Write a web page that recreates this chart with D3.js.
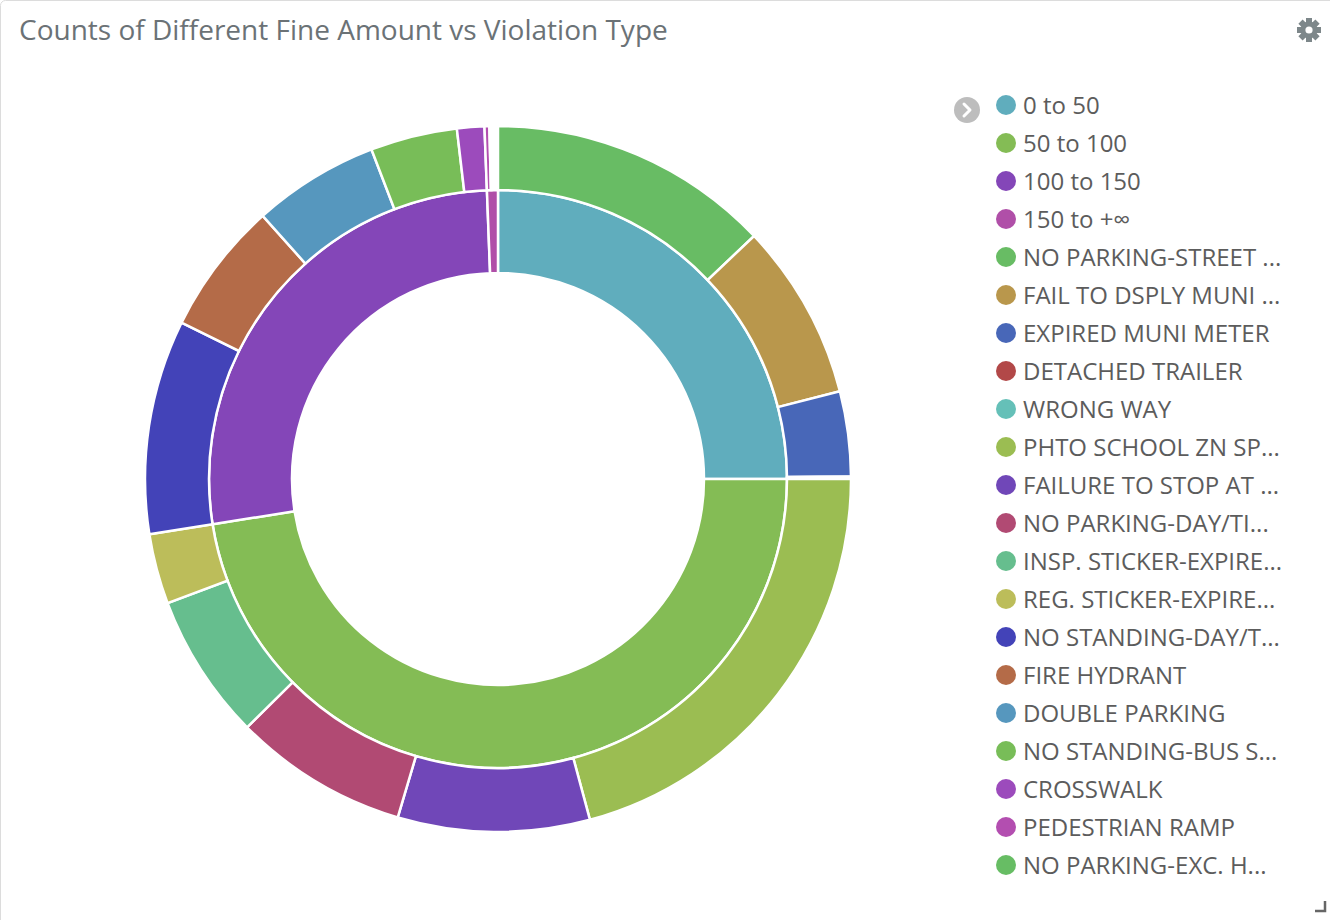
<!DOCTYPE html>
<html>
<head>
<meta charset="utf-8">
<script src="https://cdn.jsdelivr.net/npm/d3@7"></script>
<style>
  html, body { margin: 0; padding: 0; background: #fff; }
  svg { display: block; }
  text { font-family: "Open Sans", "Noto Sans", sans-serif; }
</style>
</head>
<body>
<svg id="chart" width="1330" height="920"></svg>
<script>
// ---- data ----
const title = "Counts of Different Fine Amount vs Violation Type";
const fineRanges = ["0 to 50", "50 to 100", "100 to 150", "150 to +\u221E"];
const fineCounts = [900, 1710, 968, 22];
const fineColors = ["#60adbd", "#84bc55", "#8446b8", "#b04fa8"];

const violations = [
  "NO PARKING-STREET ...", "FAIL TO DSPLY MUNI ...", "EXPIRED MUNI METER", "DETACHED TRAILER",
  "WRONG WAY", "PHTO SCHOOL ZN SP...", "FAILURE TO STOP AT ...", "NO PARKING-DAY/TI...",
  "INSP. STICKER-EXPIRE...", "REG. STICKER-EXPIRE...", "NO STANDING-DAY/T...", "FIRE HYDRANT",
  "DOUBLE PARKING", "NO STANDING-BUS S...", "CROSSWALK", "PEDESTRIAN RAMP", "NO PARKING-EXC. H..."
];
const violationColors = [
  "#68bc64", "#b9974c", "#4867b8", "#b24848",
  "#65c0b8", "#9bbd52", "#7047b8", "#b14a73",
  "#66be8e", "#bcbd5a", "#4343b8", "#b46b48",
  "#5697be", "#78bd58", "#9c4bbc", "#b34eb0", "#67bd64"
];
// parent fine range index of each violation, and its count within that range
const violationParent = [0, 0, 0, 0, 0, 1, 1, 1, 1, 1, 2, 2, 2, 2, 2, 3, 3];
const violationCounts = [465, 291, 140, 2, 2, 749, 316, 288, 241, 116, 353, 219, 208, 143, 45, 8, 2];

// ---- layout ----
const svg = d3.select("#chart");
const cx = 498, cy = 479;
const rHole = 206, rMid = 289, rOuter = 353;

// panel border
svg.append("rect").attr("x", 0.5).attr("y", 0.5).attr("width", 1360).attr("height", 960)
  .attr("rx", 5).attr("fill", "none").attr("stroke", "#dcdcdc");

svg.append("text").attr("x", 19).attr("y", 40)
  .attr("font-size", 28).attr("fill", "#6b7276").text(title);

// gear icon
const gear = svg.append("g").attr("transform", "translate(1309,30)").attr("fill", "#7d878a");
for (let i = 0; i < 8; i++) {
  gear.append("rect").attr("x", -3).attr("y", -12).attr("width", 6).attr("height", 6)
    .attr("transform", `rotate(${i * 45})`);
}
gear.append("circle").attr("r", 8.5);
gear.append("circle").attr("r", 3.6).attr("fill", "#fff");

// resize handle
svg.append("path").attr("d", "M1325,901 L1325,911 L1315,911").attr("fill", "none")
  .attr("stroke", "#666").attr("stroke-width", 2.5);

const total = d3.sum(fineCounts);
const angle = d3.scaleLinear().domain([0, total]).range([0, 2 * Math.PI]);

const g = svg.append("g").attr("transform", `translate(${cx},${cy})`);

// inner ring
const innerArc = d3.arc().innerRadius(rHole).outerRadius(rMid);
const parentStart = [];
let acc = 0;
fineCounts.forEach((v, i) => {
  parentStart.push(acc);
  g.append("path")
    .attr("d", innerArc({ startAngle: angle(acc), endAngle: angle(acc + v) }))
    .attr("fill", fineColors[i]).attr("stroke", "#fff").attr("stroke-width", 2.5);
  acc += v;
});

// outer ring
const outerArc = d3.arc().innerRadius(rMid).outerRadius(rOuter);
const offset = parentStart.slice();
violationCounts.forEach((v, i) => {
  const p = violationParent[i];
  const s = offset[p];
  offset[p] += v;
  g.append("path")
    .attr("d", outerArc({ startAngle: angle(s), endAngle: angle(s + v) }))
    .attr("fill", violationColors[i]).attr("stroke", "#fff").attr("stroke-width", 2.5);
});

// legend
const legend = svg.append("g");
legend.append("circle").attr("cx", 967).attr("cy", 110).attr("r", 13).attr("fill", "#bdbdbd");
legend.append("path").attr("d", "M964,104 L970,110 L964,116").attr("fill", "none")
  .attr("stroke", "#fff").attr("stroke-width", 3).attr("stroke-linecap", "round").attr("stroke-linejoin", "round");

const legendItems = fineRanges.map((t, i) => ({ t, c: fineColors[i] }))
  .concat(violations.map((t, i) => ({ t, c: violationColors[i] })));
legendItems.forEach((d, i) => {
  const y = 105 + i * 38;
  legend.append("circle").attr("cx", 1006).attr("cy", y).attr("r", 10).attr("fill", d.c);
  legend.append("text").attr("x", 1023).attr("y", y).attr("dy", "0.36em")
    .attr("font-size", 24).attr("fill", "#5c5c5c").text(d.t);
});
</script>
</body>
</html>
